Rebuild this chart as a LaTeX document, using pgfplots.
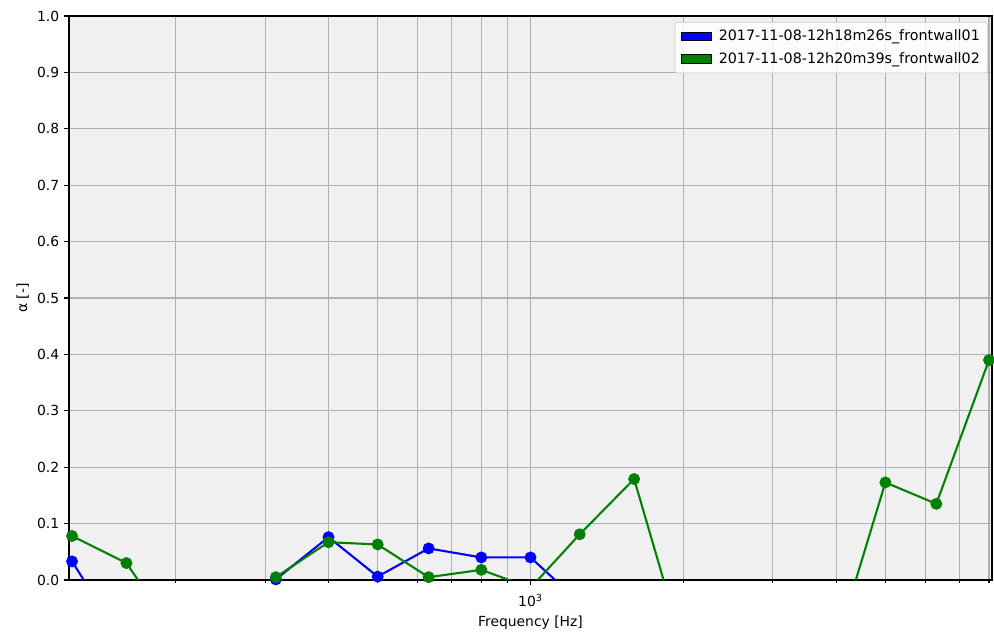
\documentclass[border=0pt]{standalone}
\usepackage{fontspec}
\setmainfont{DejaVu Sans}
\usepackage{pgfplots}
\pgfplotsset{compat=1.18}
\definecolor{mplgreen}{rgb}{0,0.5,0}
\definecolor{gridgray}{HTML}{B0B0B0}
\definecolor{bggray}{HTML}{F0F0F0}
\definecolor{legframe}{HTML}{CCCCCC}

\begin{document}
\begin{tikzpicture}[font=\fontsize{10pt}{12pt}\selectfont]
\path[use as bounding box] (-49.68pt,-38.88pt) rectangle (666pt,417.6pt);
\begin{axis}[
  scale only axis, width=664.56pt, height=406.08pt,
  xmode=log, xmin=123.3, xmax=8110, ymin=0, ymax=1,
  ytick={0,0.1,0.2,0.3,0.4,0.5,0.6,0.7,0.8,0.9,1.0},
  yticklabel style={/pgf/number format/.cd, fixed, fixed zerofill, precision=1, assume math mode=true},
  xtick={1000}, xticklabels={10\textsuperscript{3}},
  xticklabel style={yshift=-3pt},
  minor xtick={200,300,400,500,600,700,800,900,2000,3000,4000,5000,6000,7000,8000},
  tick align=outside, xtick pos=bottom, ytick pos=left,
  major tick length=3.5pt, minor tick length=2pt,
  every tick/.style={black, line width=0.8pt},
  axis line style={line width=0.8pt},
  grid=both,
  major grid style={gridgray, line width=0.8pt},
  minor grid style={gridgray, line width=0.8pt},
  axis background/.style={fill=bggray},
  xlabel={Frequency [Hz]}, ylabel={α [-]},
  xlabel style={yshift=0pt},
  ylabel style={yshift=-1pt},
  legend cell align=left,
  legend style={at={(1,1)}, anchor=north east, xshift=-3pt, yshift=-4.3pt,
    draw=legframe, rounded corners=2pt, fill=white, fill opacity=0.8, text opacity=1,
    inner sep=3.5pt, row sep=3pt, font=\fontsize{10.3pt}{12pt}\selectfont},
]
\addlegendimage{legend image code/.code={\path[draw=none, fill=none] (-1pt,0pt) -- (25pt,0pt);\draw[sharp corners, fill opacity=1, draw opacity=1, draw=black, fill=blue, line width=0.6pt] (0pt,-3pt) rectangle (22pt,3pt);}}
\addlegendentry{2017-11-08-12h18m26s\_frontwall01}
\addlegendimage{legend image code/.code={\path[draw=none, fill=none] (-1pt,0pt) -- (25pt,0pt);\draw[sharp corners, fill opacity=1, draw opacity=1, draw=black, fill=mplgreen, line width=0.6pt] (0pt,-3pt) rectangle (22pt,3pt);}}
\addlegendentry{2017-11-08-12h20m39s\_frontwall02}

\addplot[forget plot, blue, line width=1.5pt, mark=*, mark size=3.5pt, mark options={solid, fill=blue, draw=blue}] coordinates {
(125,0.033) (160,-0.12) (200,-0.2) (250,-0.15) (315,0.001) (400,0.076)
(500,0.006) (630,0.056) (800,0.040) (1000,0.040) (1250,-0.04) (1600,-0.1)
(2000,-0.2) (2500,-0.15) (3150,-0.2) (4000,-0.1) (5000,-0.15) (6300,-0.2) (8000,-0.1)
};
\addplot[forget plot, mplgreen, line width=1.5pt, mark=*, mark size=3.5pt, mark options={solid, fill=mplgreen, draw=mplgreen}] coordinates {
(125,0.078) (160,0.030) (200,-0.098) (250,-0.1) (315,0.005) (400,0.067)
(500,0.063) (630,0.005) (800,0.018) (1000,-0.014) (1250,0.081) (1600,0.179)
(2000,-0.12) (2500,-0.2) (3150,-0.15) (4000,-0.115) (5000,0.173) (6300,0.135) (8000,0.39)
};
\end{axis}
\end{tikzpicture}
\end{document}
